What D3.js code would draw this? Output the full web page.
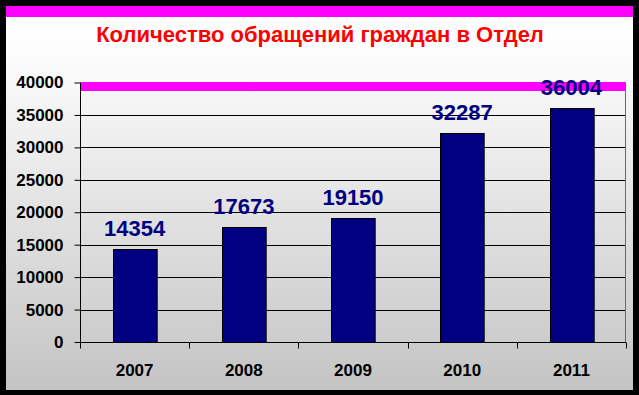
<!DOCTYPE html>
<html>
<head>
<meta charset="utf-8">
<script src="https://cdn.jsdelivr.net/npm/d3@7"></script>
<style>
  html, body { margin: 0; padding: 0; background: #000; }
  svg { display: block; }
</style>
</head>
<body>
<svg id="chart"></svg>
<script>
const title = "Количество обращений граждан в Отдел";
const years = ["2007", "2008", "2009", "2010", "2011"];
const requests = [14354, 17673, 19150, 32287, 36004];
const yTicks = [0, 5000, 10000, 15000, 20000, 25000, 30000, 35000, 40000];

const width = 639,
    height = 395;

const svg = d3.select("#chart")
    .attr("width", width)
    .attr("height", height);

// background gradient, white at top, grey at bottom
const grad = svg.append("defs").append("linearGradient")
    .attr("id", "bg")
    .attr("x1", 0).attr("y1", 0)
    .attr("x2", 0).attr("y2", 1);
grad.append("stop").attr("offset", "0%").attr("stop-color", "#ffffff");
grad.append("stop").attr("offset", "12%").attr("stop-color", "#fdfdfd");
grad.append("stop").attr("offset", "100%").attr("stop-color", "#c4c4c4");

svg.append("rect")
    .attr("width", width).attr("height", height)
    .attr("fill", "#000");

svg.append("rect")
    .attr("x", 6).attr("y", 6)
    .attr("width", 627).attr("height", 384)
    .attr("fill", "url(#bg)");

// magenta strip on top
svg.append("rect")
    .attr("x", 6).attr("y", 6)
    .attr("width", 627).attr("height", 11)
    .attr("fill", "#ff00ff");

const font = "Arial, 'Liberation Sans', sans-serif";

svg.append("text")
    .attr("x", 320)
    .attr("y", 42)
    .attr("text-anchor", "middle")
    .style("font-family", font)
    .style("font-weight", "bold")
    .style("font-size", "22px")
    .attr("fill", "#ff0000")
    .text(title);

const x = d3.scaleBand()
    .domain(years)
    .range([80, 626])
    .paddingInner(0.6)
    .paddingOuter(0.3);

const xCat = d3.scaleBand()
    .domain(years)
    .range([80, 626]);

const y = d3.scaleLinear()
    .domain([0, 40000])
    .range([342, 82.5]);

// grid lines
svg.append("g")
    .selectAll("line")
    .data(yTicks.slice(1))
    .join("line")
    .attr("x1", 80).attr("x2", 625)
    .attr("y1", d => Math.round(y(d)) + 0.5)
    .attr("y2", d => Math.round(y(d)) + 0.5)
    .attr("stroke", "#000")
    .attr("stroke-width", 1);

// y axis
const yAxis = svg.append("g")
    .attr("transform", "translate(80.5,0)")
    .call(d3.axisLeft(y).tickValues(yTicks).tickSize(6).tickPadding(11).tickFormat(d3.format("d")));
yAxis.select(".domain").attr("stroke", "#000").attr("d", `M0,${y(40000)}V${y(0)}`);
yAxis.selectAll(".tick line").attr("stroke", "#000");
yAxis.selectAll(".tick text")
    .attr("fill", "#000")
    .style("font-family", font)
    .style("font-weight", "bold")
    .style("font-size", "17px");

// x axis, ticks on category boundaries
const xAxis = svg.append("g")
    .attr("transform", `translate(0,${Math.round(y(0)) + 0.5})`);
xAxis.append("line")
    .attr("x1", 80).attr("x2", 626)
    .attr("stroke", "#000");
xAxis.selectAll(".sep")
    .data(years.concat(["end"]))
    .join("line")
    .attr("class", "sep")
    .attr("x1", (d, i) => Math.round(i < years.length ? xCat(d) : xCat.range()[1]) + 0.5)
    .attr("x2", (d, i) => Math.round(i < years.length ? xCat(d) : xCat.range()[1]) + 0.5)
    .attr("y1", 0).attr("y2", 6)
    .attr("stroke", "#000");
xAxis.selectAll(".lbl")
    .data(years)
    .join("text")
    .attr("class", "lbl")
    .attr("x", d => xCat(d) + xCat.bandwidth() / 2)
    .attr("y", 33)
    .attr("text-anchor", "middle")
    .style("font-family", font)
    .style("font-weight", "bold")
    .style("font-size", "17px")
    .attr("fill", "#000")
    .text(d => d);

// plot frame: thick magenta top, thin magenta right
svg.append("rect")
    .attr("x", 81).attr("y", 82)
    .attr("width", 545).attr("height", 9)
    .attr("fill", "#ff00ff");
svg.append("line")
    .attr("x1", 625.5).attr("x2", 625.5)
    .attr("y1", 82).attr("y2", y(0))
    .attr("stroke", "#ff00ff");

// bars
svg.append("g")
    .selectAll("rect")
    .data(requests)
    .join("rect")
    .attr("x", (d, i) => Math.round(x(years[i])) + 0.5)
    .attr("y", d => Math.round(y(d)) + 0.5)
    .attr("width", x.bandwidth())
    .attr("height", d => Math.round(y(0)) - Math.round(y(d)))
    .attr("fill", "#000080")
    .attr("stroke", "#000")
    .attr("stroke-width", 1);

// value labels
svg.append("g")
    .selectAll("text")
    .data(requests)
    .join("text")
    .attr("x", (d, i) => x(years[i]) + x.bandwidth() / 2)
    .attr("y", d => y(d) - 13)
    .attr("text-anchor", "middle")
    .style("font-family", font)
    .style("font-weight", "bold")
    .style("font-size", "22px")
    .attr("fill", "#000080")
    .text(d => d);
</script>
</body>
</html>
